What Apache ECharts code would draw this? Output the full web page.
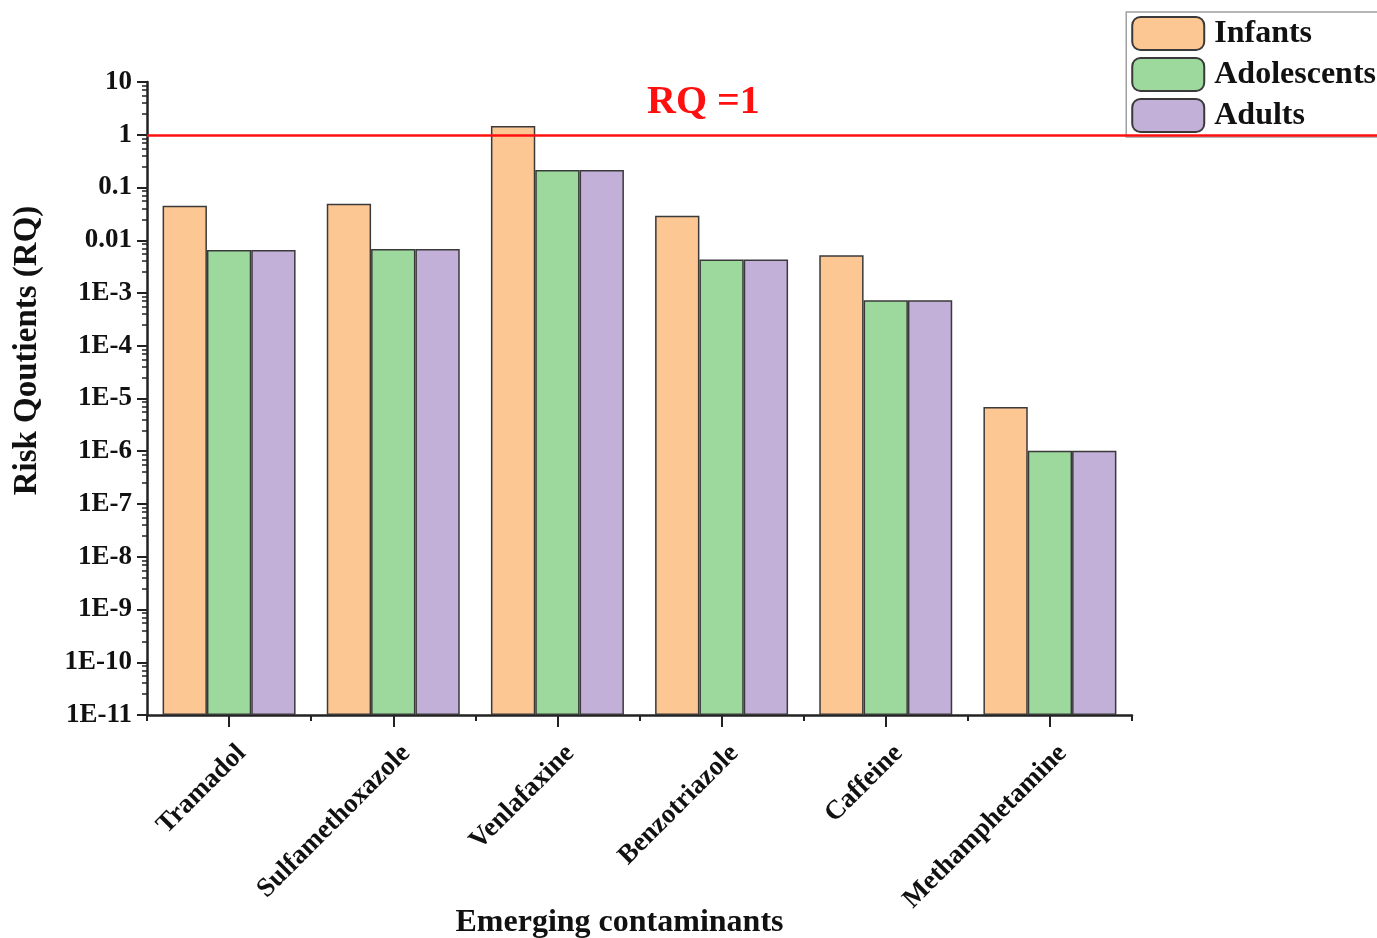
<!DOCTYPE html>
<html>
<head>
<meta charset="utf-8">
<script src="https://cdn.jsdelivr.net/npm/echarts@6/dist/echarts.min.js"></script>
<style>html,body{margin:0;padding:0;background:#fff;}#c{width:1377px;height:938px;}</style>
</head>
<body>
<div id="c"></div>
<script>
const categories = ['Tramadol', 'Sulfamethoxazole', 'Venlafaxine', 'Benzotriazole', 'Caffeine', 'Methamphetamine'];
const infants = [0.045, 0.049, 1.47, 0.029, 0.0052, 6.9e-6];
const adolescents = [0.0065, 0.0068, 0.215, 0.0043, 0.00073, 1.02e-6];
const adults = [0.0065, 0.0068, 0.215, 0.0043, 0.00073, 1.02e-6];
const seriesNames = ['Infants', 'Adolescents', 'Adults'];
const rqThreshold = 1;

const FONT = '"Liberation Serif", "DejaVu Serif", serif';
const colors = ['#FDC794', '#9DD89C', '#C2B0D8'];

const chart = echarts.init(document.getElementById('c'), null, {renderer: 'canvas'});

function fmt(v) {
  const e = Math.round(Math.log10(v));
  if (e >= 1) return String(Math.round(Math.pow(10, e)));
  if (e >= -2) return (Math.pow(10, e)).toFixed(-e);
  return '1E' + e;
}

const barStyle = (i) => ({color: colors[i], borderColor: '#3a3a3a', borderWidth: 1.5});

chart.setOption({
  animation: false,
  color: colors,
  grid: {left: 147, right: 245, top: 82, bottom: 223, containLabel: false, outerBoundsMode: 'none'},
  legend: {
    orient: 'vertical', right: -3, top: 12,
    itemWidth: 72, itemHeight: 33, itemGap: 6,
    borderColor: '#a0a0a0', borderWidth: 1.5, padding: [4, 4, 4, 5],
    icon: 'roundRect',
    textStyle: {fontFamily: FONT, fontWeight: 'bold', fontSize: 32, color: '#111', padding: [0, 0, 0, 5]},
    data: seriesNames
  },
  xAxis: [{
    type: 'category', data: categories,
    name: 'Emerging contaminants', nameLocation: 'middle', nameGap: 192, nameMoveOverlap: false,
    nameTextStyle: {fontFamily: FONT, fontWeight: 'bold', fontSize: 32, color: '#111', padding: [0, 40, 0, 0]},
    axisLine: {show: true, lineStyle: {color: '#222', width: 2.5}},
    axisTick: {show: true, alignWithLabel: true, length: 12, lineStyle: {color: '#222', width: 2}},
    axisLabel: {rotate: 45, margin: 47, fontFamily: FONT, fontWeight: 'bold', fontSize: 27, color: '#111', interval: 0, padding: [0, -18, 0, 0]},
    splitLine: {show: false}
  }, {
    type: 'category', data: categories, position: 'bottom', gridIndex: 0,
    axisLine: {show: false},
    axisTick: {show: true, alignWithLabel: false, length: 6, lineStyle: {color: '#222', width: 2}},
    axisLabel: {show: false},
    splitLine: {show: false}
  }],
  yAxis: {
    type: 'log', logBase: 10, min: 1e-11, max: 10, interval: 1, startValue: 1e-11,
    name: 'Risk Qoutients (RQ)', nameLocation: 'middle', nameGap: 103,
    nameTextStyle: {fontFamily: FONT, fontWeight: 'bold', fontSize: 33, color: '#111', padding: [0, 0, 0, 96]},
    axisLine: {show: true, lineStyle: {color: '#222', width: 2.5}},
    axisTick: {show: true, length: 10, lineStyle: {color: '#222', width: 2}},
    minorTick: {show: true, splitNumber: 6, length: 5, lineStyle: {color: '#222', width: 1.5}},
    axisLabel: {formatter: fmt, fontFamily: FONT, fontWeight: 'bold', fontSize: 27, color: '#111', margin: 15},
    splitLine: {show: false}
  },
  graphic: [{
    type: 'text', left: 647, top: 83,
    style: {text: 'RQ =1', fill: '#FF1010', font: 'bold 40px ' + FONT}
  }],
  series: [
    {
      name: seriesNames[0], type: 'bar', data: infants, itemStyle: barStyle(0),
      barGap: '0%', barCategoryGap: '19%',
      markLine: {
        silent: true, symbol: 'none', label: {show: false},
        lineStyle: {color: '#FF1010', width: 2.5, type: 'solid'},
        data: [[{x: 147, yAxis: rqThreshold}, {x: 1377, yAxis: rqThreshold}]]
      }
    },
    {name: seriesNames[1], type: 'bar', data: adolescents, itemStyle: barStyle(1), barGap: '0%', barCategoryGap: '19%'},
    {name: seriesNames[2], type: 'bar', data: adults, itemStyle: barStyle(2), barGap: '0%', barCategoryGap: '19%'}
  ]
});
</script>
</body>
</html>
